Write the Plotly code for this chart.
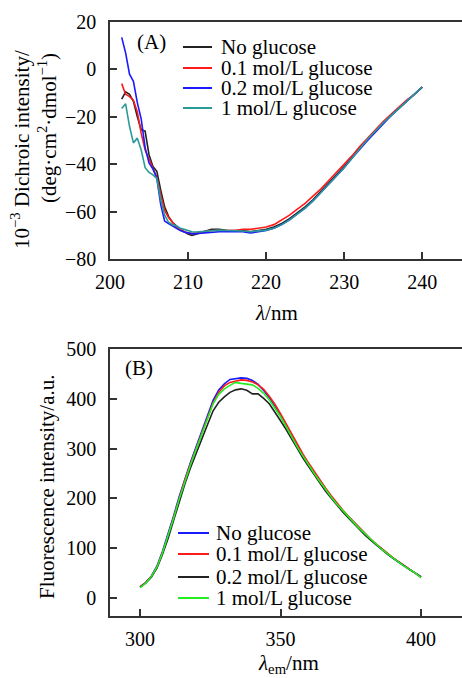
import plotly.graph_objects as go

# ---------------- Panel A: CD spectra ----------------
CD_WL = [201.5, 202, 202.5, 203, 203.5, 204, 204.5, 205, 205.5, 206, 206.5, 207, 207.5,
         208, 208.5, 209, 209.5, 210, 210.5, 211, 212, 213, 214, 215, 216, 217, 218, 219,
         220, 221, 222, 223, 224, 225, 226, 227, 228, 229, 230, 231, 232, 233, 234, 235,
         236, 237, 238, 239, 240]

CD_NO_GLUCOSE = [-12.5, -9.5, -10.5, -13.5, -20, -25.5, -26, -36, -41, -43, -51, -58, -62,
                 -64.5, -66, -67.5, -68.5, -69.5, -70, -69.5, -68.5, -67.5, -67.5, -68, -68, -68, -68.5, -68,
                 -67.5, -66.5, -65, -63, -60.5, -58, -55, -51.5, -48, -44.5, -41, -37, -33, -29.5, -26, -22.5,
                 -19.5, -16.5, -13.5, -10.5, -7.5]
CD_01 = [-6, -10.5, -11.5, -13, -18, -27, -34, -38, -41.5, -45.5, -53, -59.5, -62.5,
         -64.5, -66.5, -67.5, -68.5, -69, -69.3, -69, -68.5, -68, -68, -68, -68, -67.5, -67.5, -67,
         -66.5, -65.5, -63.5, -61.5, -59, -56.5, -53.5, -50.5, -47, -43.5, -40, -36.5, -32.5, -29, -25.5, -22,
         -19, -16, -13, -10.5, -7.5]
CD_02 = [13.5, 7, -2, -5, -14, -21, -33, -39.5, -42, -46, -57, -64, -65,
         -66, -67, -68, -68.6, -69, -69.3, -69.3, -69, -68.5, -68.5, -68.5, -68.5, -68.5, -69, -68.5,
         -68, -67, -65.5, -63.5, -61, -58.5, -55.5, -52, -48.5, -45, -41.5, -37.5, -33.5, -30, -26.5, -23,
         -19.5, -16.5, -13.5, -10.5, -7.5]
CD_1 = [-16.5, -14.5, -24, -31, -29, -34, -41.5, -43.5, -44.5, -46, -55, -61.5, -64.5,
        -65.5, -66, -67, -67.5, -68, -68.5, -68.6, -68.3, -68, -67.8, -68, -68, -68.2, -68.5, -68.2,
        -67.8, -67, -65.5, -63.5, -61, -58.5, -55.5, -52, -48.5, -45, -41.5, -37.5, -33.5, -29.5, -26, -22.5,
        -19.5, -16.5, -13.5, -10.5, -7.5]

CD_NAMES = ["No glucose", "0.1 mol/L glucose", "0.2 mol/L glucose", "1 mol/L glucose"]
CD_COLORS = ["#222222", "#ff1a1a", "#1a1aff", "#2a9a98"]
CD_SERIES = [CD_NO_GLUCOSE, CD_01, CD_02, CD_1]

CD_XTICKS = [200, 210, 220, 230, 240]
CD_YTICKS = [-80, -60, -40, -20, 0, 20]

# ---------------- Panel B: fluorescence ----------------
FL_WL = [300, 302, 304, 306, 308, 310, 312, 314, 316, 318, 320, 322, 324, 326, 328, 330,
         332, 334, 336, 338, 340, 342, 344, 346, 348, 350, 352, 354, 356, 358, 360, 362,
         364, 366, 368, 370, 372, 374, 376, 378, 380, 382, 384, 386, 388, 390, 392, 394,
         396, 398, 400]

FL_NO_GLUCOSE = [22, 31, 44, 64, 94, 128, 166, 205, 241, 273, 304, 334, 364, 397, 418, 430,
                 439, 440, 442, 441, 437, 429, 417, 402, 385, 366, 345, 324, 304, 285, 268, 251,
                 234, 218, 203, 189, 176, 164, 152, 140, 129, 118, 108, 98, 89, 80, 72, 64,
                 57, 50, 43]
FL_01 = [23, 31, 43, 62, 92, 125, 163, 202, 238, 270, 301, 331, 360, 392, 413, 426,
         433, 436, 438, 437, 434, 428, 419, 405, 389, 370, 349, 328, 308, 289, 271, 254,
         237, 221, 206, 191, 178, 165, 153, 141, 130, 119, 109, 99, 90, 81, 73, 65,
         57, 50, 42]
FL_02 = [22, 30, 42, 60, 88, 120, 157, 195, 230, 262, 292, 320, 348, 376, 393, 404,
         413, 418, 420, 417, 410, 410, 401, 390, 374, 356, 338, 318, 299, 281, 264, 247,
         231, 215, 201, 187, 174, 162, 150, 138, 127, 117, 107, 97, 88, 80, 72, 64,
         57, 50, 42]
FL_1 = [21, 30, 43, 62, 91, 124, 161, 200, 236, 268, 299, 328, 357, 390, 409, 420,
        427, 433, 431, 429, 428, 421, 411, 398, 382, 364, 344, 323, 303, 285, 267, 250,
        234, 218, 203, 189, 176, 164, 152, 140, 129, 118, 108, 98, 89, 80, 72, 64,
        57, 50, 41]

FL_NAMES = ["No glucose", "0.1 mol/L glucose", "0.2 mol/L glucose", "1 mol/L glucose"]
FL_COLORS = ["#1a1aff", "#ff1a1a", "#222222", "#22ee22"]
FL_SERIES = [FL_NO_GLUCOSE, FL_01, FL_02, FL_1]

FL_XTICKS = [300, 350, 400]
FL_YTICKS = [0, 100, 200, 300, 400, 500]

# ---------------- figure ----------------
W, H = 462, 678
FONT = "Liberation Serif"
AXC = "#333333"
TXT = "black"


def px(x):
    return x / W


def py(y):
    return 1 - y / H


fig = go.Figure()

for name, color, vals in zip(CD_NAMES, CD_COLORS, CD_SERIES):
    fig.add_trace(go.Scatter(x=CD_WL, y=vals, mode="lines", name=name,
                             line=dict(color=color, width=1.6),
                             xaxis="x", yaxis="y", showlegend=False))

for name, color, vals in zip(FL_NAMES, FL_COLORS, FL_SERIES):
    fig.add_trace(go.Scatter(x=FL_WL, y=vals, mode="lines", name=name,
                             line=dict(color=color, width=1.6),
                             xaxis="x2", yaxis="y2", showlegend=False))

axis_common = dict(showline=True, linecolor=AXC, linewidth=1.5, ticks="inside",
                   tickcolor=AXC, tickwidth=1.5, ticklen=7, showgrid=False,
                   zeroline=False, automargin=False,
                   tickfont=dict(family=FONT, size=20, color=TXT))

fig.update_layout(
    width=W, height=H,
    margin=dict(l=0, r=0, t=0, b=0, autoexpand=False),
    showlegend=False,
    paper_bgcolor="white", plot_bgcolor="white",
    xaxis=dict(domain=[px(110), 1], range=[200, 245.1], tickvals=CD_XTICKS,
               mirror=True, anchor="y", ticklabelstandoff=4, **axis_common),
    yaxis=dict(domain=[py(259), py(22)], range=[-80, 20], tickvals=CD_YTICKS,
               anchor="x", ticklabelstandoff=8, **axis_common),
    xaxis2=dict(domain=[px(110), 1], range=[289.3, 414.6], tickvals=FL_XTICKS,
                mirror=True, anchor="y2", ticklabelstandoff=4, **axis_common),
    yaxis2=dict(domain=[py(616), py(349)], range=[-36, 500], tickvals=FL_YTICKS,
                anchor="x2", ticklabelstandoff=8, **axis_common),
)

ann = []
shapes = []


def text(x, y, s, size=21, angle=0, xanchor="center"):
    ann.append(dict(x=px(x), y=py(y), xref="paper", yref="paper", text=s,
                    showarrow=False, textangle=angle, xanchor=xanchor, yanchor="middle",
                    font=dict(family=FONT, size=size, color=TXT)))


# axis titles
text(20, 150, "10<sup>−3</sup> Dichroic intensity/", angle=-90)
text(47, 128, "(deg·cm<sup>2</sup>·dmol<sup>−1</sup>)", angle=-90)
text(276, 313, "<i>λ</i>/nm")
text(47, 487, "Fluorescence intensity/a.u.", angle=-90)
text(288, 664, "<i>λ</i><sub>em</sub>/nm")

# panel labels
text(151, 42, "(A)")
text(139, 368, "(B)")

# legends (hand placed)
for i, (name, color) in enumerate(zip(CD_NAMES, CD_COLORS)):
    yy = [47, 68, 88, 108][i]
    shapes.append(dict(type="line", xref="paper", yref="paper", x0=px(183), x1=px(212),
                       y0=py(yy), y1=py(yy), line=dict(color=color, width=2)))
    text(219, yy, name, xanchor="left")

for i, (name, color) in enumerate(zip(FL_NAMES, FL_COLORS)):
    yy = [533, 554, 577, 598][i]
    shapes.append(dict(type="line", xref="paper", yref="paper", x0=px(178), x1=px(209),
                       y0=py(yy), y1=py(yy), line=dict(color=color, width=2)))
    text(214, yy, name, xanchor="left")

fig.update_layout(annotations=ann, shapes=shapes)

fig.write_html("out.html", config={"displayModeBar": False},
               post_script="document.body.style.margin='0';")
